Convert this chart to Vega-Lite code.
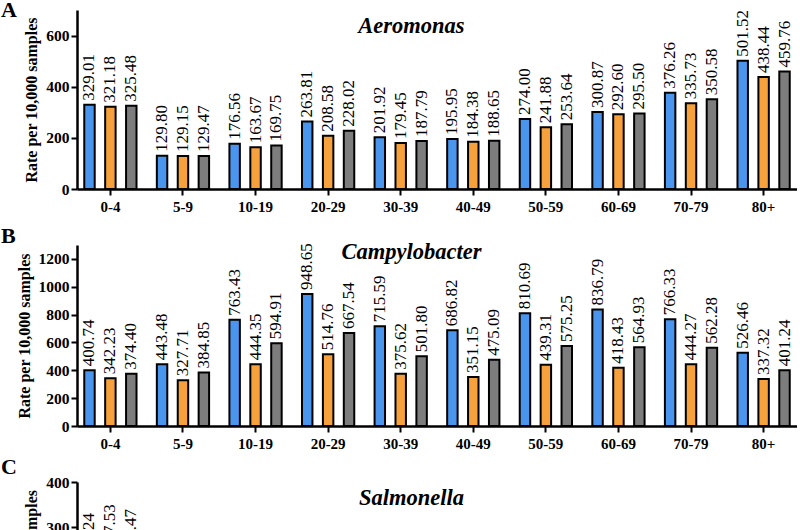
{
  "$schema": "https://vega.github.io/schema/vega-lite/v6.json",
  "padding": {"left": 1, "top": -1, "right": 0, "bottom": 0},
  "background": "white",
  "config": {
    "view": {"stroke": null},
    "font": "Liberation Serif",
    "axis": {
      "grid": false,
      "domainColor": "black",
      "domainWidth": 2.5,
      "tickColor": "black",
      "tickWidth": 2,
      "tickSize": 6,
      "labelColor": "black",
      "labelFont": "Liberation Serif",
      "labelFontWeight": "bold",
      "labelFontSize": 15,
      "titleColor": "black",
      "titleFont": "Liberation Serif",
      "titleFontWeight": "bold"
    }
  },
  "data": {
    "values": [
      {"panel": "A", "age": "0-4", "series": "Male", "value": 329.01},
      {"panel": "A", "age": "0-4", "series": "Female", "value": 321.18},
      {"panel": "A", "age": "0-4", "series": "Total", "value": 325.48},
      {"panel": "A", "age": "5-9", "series": "Male", "value": 129.80},
      {"panel": "A", "age": "5-9", "series": "Female", "value": 129.15},
      {"panel": "A", "age": "5-9", "series": "Total", "value": 129.47},
      {"panel": "A", "age": "10-19", "series": "Male", "value": 176.56},
      {"panel": "A", "age": "10-19", "series": "Female", "value": 163.67},
      {"panel": "A", "age": "10-19", "series": "Total", "value": 169.75},
      {"panel": "A", "age": "20-29", "series": "Male", "value": 263.81},
      {"panel": "A", "age": "20-29", "series": "Female", "value": 208.58},
      {"panel": "A", "age": "20-29", "series": "Total", "value": 228.02},
      {"panel": "A", "age": "30-39", "series": "Male", "value": 201.92},
      {"panel": "A", "age": "30-39", "series": "Female", "value": 179.45},
      {"panel": "A", "age": "30-39", "series": "Total", "value": 187.79},
      {"panel": "A", "age": "40-49", "series": "Male", "value": 195.95},
      {"panel": "A", "age": "40-49", "series": "Female", "value": 184.38},
      {"panel": "A", "age": "40-49", "series": "Total", "value": 188.65},
      {"panel": "A", "age": "50-59", "series": "Male", "value": 274.00},
      {"panel": "A", "age": "50-59", "series": "Female", "value": 241.88},
      {"panel": "A", "age": "50-59", "series": "Total", "value": 253.64},
      {"panel": "A", "age": "60-69", "series": "Male", "value": 300.87},
      {"panel": "A", "age": "60-69", "series": "Female", "value": 292.60},
      {"panel": "A", "age": "60-69", "series": "Total", "value": 295.50},
      {"panel": "A", "age": "70-79", "series": "Male", "value": 376.26},
      {"panel": "A", "age": "70-79", "series": "Female", "value": 335.73},
      {"panel": "A", "age": "70-79", "series": "Total", "value": 350.58},
      {"panel": "A", "age": "80+", "series": "Male", "value": 501.52},
      {"panel": "A", "age": "80+", "series": "Female", "value": 438.44},
      {"panel": "A", "age": "80+", "series": "Total", "value": 459.76},
      {"panel": "B", "age": "0-4", "series": "Male", "value": 400.74},
      {"panel": "B", "age": "0-4", "series": "Female", "value": 342.23},
      {"panel": "B", "age": "0-4", "series": "Total", "value": 374.40},
      {"panel": "B", "age": "5-9", "series": "Male", "value": 443.48},
      {"panel": "B", "age": "5-9", "series": "Female", "value": 327.71},
      {"panel": "B", "age": "5-9", "series": "Total", "value": 384.85},
      {"panel": "B", "age": "10-19", "series": "Male", "value": 763.43},
      {"panel": "B", "age": "10-19", "series": "Female", "value": 444.35},
      {"panel": "B", "age": "10-19", "series": "Total", "value": 594.91},
      {"panel": "B", "age": "20-29", "series": "Male", "value": 948.65},
      {"panel": "B", "age": "20-29", "series": "Female", "value": 514.76},
      {"panel": "B", "age": "20-29", "series": "Total", "value": 667.54},
      {"panel": "B", "age": "30-39", "series": "Male", "value": 715.59},
      {"panel": "B", "age": "30-39", "series": "Female", "value": 375.62},
      {"panel": "B", "age": "30-39", "series": "Total", "value": 501.80},
      {"panel": "B", "age": "40-49", "series": "Male", "value": 686.82},
      {"panel": "B", "age": "40-49", "series": "Female", "value": 351.15},
      {"panel": "B", "age": "40-49", "series": "Total", "value": 475.09},
      {"panel": "B", "age": "50-59", "series": "Male", "value": 810.69},
      {"panel": "B", "age": "50-59", "series": "Female", "value": 439.31},
      {"panel": "B", "age": "50-59", "series": "Total", "value": 575.25},
      {"panel": "B", "age": "60-69", "series": "Male", "value": 836.79},
      {"panel": "B", "age": "60-69", "series": "Female", "value": 418.43},
      {"panel": "B", "age": "60-69", "series": "Total", "value": 564.93},
      {"panel": "B", "age": "70-79", "series": "Male", "value": 766.33},
      {"panel": "B", "age": "70-79", "series": "Female", "value": 444.27},
      {"panel": "B", "age": "70-79", "series": "Total", "value": 562.28},
      {"panel": "B", "age": "80+", "series": "Male", "value": 526.46},
      {"panel": "B", "age": "80+", "series": "Female", "value": 337.32},
      {"panel": "B", "age": "80+", "series": "Total", "value": 401.24},
      {"panel": "C", "age": "0-4", "series": "Male", "value": 218.24},
      {"panel": "C", "age": "0-4", "series": "Female", "value": 237.53},
      {"panel": "C", "age": "0-4", "series": "Total", "value": 227.47},
      {"panel": "C", "age": "5-9", "series": "Male", "value": 102.50},
      {"panel": "C", "age": "5-9", "series": "Female", "value": 98.30},
      {"panel": "C", "age": "5-9", "series": "Total", "value": 100.40},
      {"panel": "C", "age": "10-19", "series": "Male", "value": 78.90},
      {"panel": "C", "age": "10-19", "series": "Female", "value": 85.60},
      {"panel": "C", "age": "10-19", "series": "Total", "value": 82.10},
      {"panel": "C", "age": "20-29", "series": "Male", "value": 96.20},
      {"panel": "C", "age": "20-29", "series": "Female", "value": 110.40},
      {"panel": "C", "age": "20-29", "series": "Total", "value": 103.10},
      {"panel": "C", "age": "30-39", "series": "Male", "value": 92.70},
      {"panel": "C", "age": "30-39", "series": "Female", "value": 101.80},
      {"panel": "C", "age": "30-39", "series": "Total", "value": 97.10},
      {"panel": "C", "age": "40-49", "series": "Male", "value": 95.30},
      {"panel": "C", "age": "40-49", "series": "Female", "value": 104.70},
      {"panel": "C", "age": "40-49", "series": "Total", "value": 99.90},
      {"panel": "C", "age": "50-59", "series": "Male", "value": 110.60},
      {"panel": "C", "age": "50-59", "series": "Female", "value": 118.20},
      {"panel": "C", "age": "50-59", "series": "Total", "value": 114.30},
      {"panel": "C", "age": "60-69", "series": "Male", "value": 128.40},
      {"panel": "C", "age": "60-69", "series": "Female", "value": 131.90},
      {"panel": "C", "age": "60-69", "series": "Total", "value": 130.20},
      {"panel": "C", "age": "70-79", "series": "Male", "value": 150.60},
      {"panel": "C", "age": "70-79", "series": "Female", "value": 147.30},
      {"panel": "C", "age": "70-79", "series": "Total", "value": 148.90},
      {"panel": "C", "age": "80+", "series": "Male", "value": 172.10},
      {"panel": "C", "age": "80+", "series": "Female", "value": 165.80},
      {"panel": "C", "age": "80+", "series": "Total", "value": 168.50}
    ]
  },
  "bounds": "flush",
  "spacing": 56,
  "vconcat": [
    {
      "width": 720,
      "height": 179,
      "transform": [{"filter": "datum.panel === 'A'"}],
      "title": {"text": "A", "anchor": "start", "frame": "group", "dx": -76, "offset": -29, "baseline": "alphabetic", "fontSize": 22, "fontWeight": "bold", "font": "Liberation Serif", "color": "black"},
      "encoding": {
        "xOffset": {"field": "series", "type": "nominal", "sort": ["Male", "Female", "Total"], "scale": {"paddingInner": 0.5, "paddingOuter": 0}},
        "y": {"field": "value", "type": "quantitative", "scale": {"domain": [0, 700], "nice": false}, "axis": {"title": "Rate per 10,000 samples", "values": [0, 200, 400, 600], "format": "d", "labelFontSize": 15.5, "titleFontSize": 16, "titlePadding": 6}}
      },
      "layer": [
        {
          "mark": {"type": "bar", "stroke": "black", "strokeWidth": 2},
          "encoding": {
            "x": {"field": "age", "type": "nominal", "sort": ["0-4", "5-9", "10-19", "20-29", "30-39", "40-49", "50-59", "60-69", "70-79", "80+"], "scale": {"paddingInner": 0.28, "paddingOuter": 0.1}, "axis": {"orient": "bottom", "title": null, "labelAngle": 0, "labelPadding": 4}},
            "color": {"field": "series", "type": "nominal", "sort": ["Male", "Female", "Total"], "scale": {"domain": ["Male", "Female", "Total"], "range": ["#4a96ee", "#f7a13c", "#7d7d7d"]}, "legend": null}
          }
        },
        {
          "mark": {"type": "text", "angle": 270, "align": "left", "baseline": "middle", "dx": 4, "fontSize": 17, "color": "black", "font": "Liberation Serif"},
          "encoding": {
            "x": {"field": "age", "type": "nominal", "sort": ["0-4", "5-9", "10-19", "20-29", "30-39", "40-49", "50-59", "60-69", "70-79", "80+"], "scale": {"paddingInner": 0.28, "paddingOuter": 0.1}, "axis": {"orient": "top", "title": "Aeromonas", "labels": false, "ticks": false, "domain": false, "titleFontStyle": "italic", "titleFontWeight": "bold", "titleFontSize": 22.5, "titleX": 334, "titleY": 22, "titleAlign": "center", "titleBaseline": "alphabetic", "titleAngle": 0}},
            "text": {"field": "value", "type": "quantitative", "format": ".2f"}
          }
        }
      ],
      "resolve": {"axis": {"x": "independent"}}
    },
    {
      "width": 720,
      "height": 181,
      "transform": [{"filter": "datum.panel === 'B'"}],
      "title": {"text": "B", "anchor": "start", "frame": "group", "dx": -76, "offset": -25, "baseline": "alphabetic", "fontSize": 22, "fontWeight": "bold", "font": "Liberation Serif", "color": "black"},
      "encoding": {
        "xOffset": {"field": "series", "type": "nominal", "sort": ["Male", "Female", "Total"], "scale": {"paddingInner": 0.5, "paddingOuter": 0}},
        "y": {"field": "value", "type": "quantitative", "scale": {"domain": [0, 1300], "nice": false}, "axis": {"title": "Rate per 10,000 samples", "values": [0, 200, 400, 600, 800, 1000, 1200], "format": "d", "labelFontSize": 15.5, "titleFontSize": 16, "titlePadding": 6}}
      },
      "layer": [
        {
          "mark": {"type": "bar", "stroke": "black", "strokeWidth": 2},
          "encoding": {
            "x": {"field": "age", "type": "nominal", "sort": ["0-4", "5-9", "10-19", "20-29", "30-39", "40-49", "50-59", "60-69", "70-79", "80+"], "scale": {"paddingInner": 0.28, "paddingOuter": 0.1}, "axis": {"orient": "bottom", "title": null, "labelAngle": 0, "labelPadding": 4}},
            "color": {"field": "series", "type": "nominal", "sort": ["Male", "Female", "Total"], "scale": {"domain": ["Male", "Female", "Total"], "range": ["#4a96ee", "#f7a13c", "#7d7d7d"]}, "legend": null}
          }
        },
        {
          "mark": {"type": "text", "angle": 270, "align": "left", "baseline": "middle", "dx": 4, "fontSize": 17, "color": "black", "font": "Liberation Serif"},
          "encoding": {
            "x": {"field": "age", "type": "nominal", "sort": ["0-4", "5-9", "10-19", "20-29", "30-39", "40-49", "50-59", "60-69", "70-79", "80+"], "scale": {"paddingInner": 0.28, "paddingOuter": 0.1}, "axis": {"orient": "top", "title": "Campylobacter", "labels": false, "ticks": false, "domain": false, "titleFontStyle": "italic", "titleFontWeight": "bold", "titleFontSize": 22.5, "titleX": 334, "titleY": 13, "titleAlign": "center", "titleBaseline": "alphabetic", "titleAngle": 0}},
            "text": {"field": "value", "type": "quantitative", "format": ".2f"}
          }
        }
      ],
      "resolve": {"axis": {"x": "independent"}}
    },
    {
      "width": 720,
      "height": 180,
      "transform": [{"filter": "datum.panel === 'C'"}],
      "title": {"text": "C", "anchor": "start", "frame": "group", "dx": -76, "offset": -21, "baseline": "alphabetic", "fontSize": 22, "fontWeight": "bold", "font": "Liberation Serif", "color": "black"},
      "encoding": {
        "xOffset": {"field": "series", "type": "nominal", "sort": ["Male", "Female", "Total"], "scale": {"paddingInner": 0.5, "paddingOuter": 0}},
        "y": {"field": "value", "type": "quantitative", "scale": {"domain": [0, 400], "nice": false}, "axis": {"title": "Rate per 10,000 samples", "values": [0, 100, 200, 300, 400], "format": "d", "labelFontSize": 15.5, "titleFontSize": 16, "titlePadding": 6}}
      },
      "layer": [
        {
          "mark": {"type": "bar", "stroke": "black", "strokeWidth": 2},
          "encoding": {
            "x": {"field": "age", "type": "nominal", "sort": ["0-4", "5-9", "10-19", "20-29", "30-39", "40-49", "50-59", "60-69", "70-79", "80+"], "scale": {"paddingInner": 0.28, "paddingOuter": 0.1}, "axis": {"orient": "bottom", "title": null, "labelAngle": 0, "labelPadding": 4}},
            "color": {"field": "series", "type": "nominal", "sort": ["Male", "Female", "Total"], "scale": {"domain": ["Male", "Female", "Total"], "range": ["#4a96ee", "#f7a13c", "#7d7d7d"]}, "legend": null}
          }
        },
        {
          "mark": {"type": "text", "angle": 270, "align": "left", "baseline": "middle", "dx": 4, "fontSize": 17, "color": "black", "font": "Liberation Serif"},
          "encoding": {
            "x": {"field": "age", "type": "nominal", "sort": ["0-4", "5-9", "10-19", "20-29", "30-39", "40-49", "50-59", "60-69", "70-79", "80+"], "scale": {"paddingInner": 0.28, "paddingOuter": 0.1}, "axis": {"orient": "top", "title": "Salmonella", "labels": false, "ticks": false, "domain": false, "titleFontStyle": "italic", "titleFontWeight": "bold", "titleFontSize": 22.5, "titleX": 334, "titleY": 22, "titleAlign": "center", "titleBaseline": "alphabetic", "titleAngle": 0}},
            "text": {"field": "value", "type": "quantitative", "format": ".2f"}
          }
        }
      ],
      "resolve": {"axis": {"x": "independent"}}
    }
  ]
}
